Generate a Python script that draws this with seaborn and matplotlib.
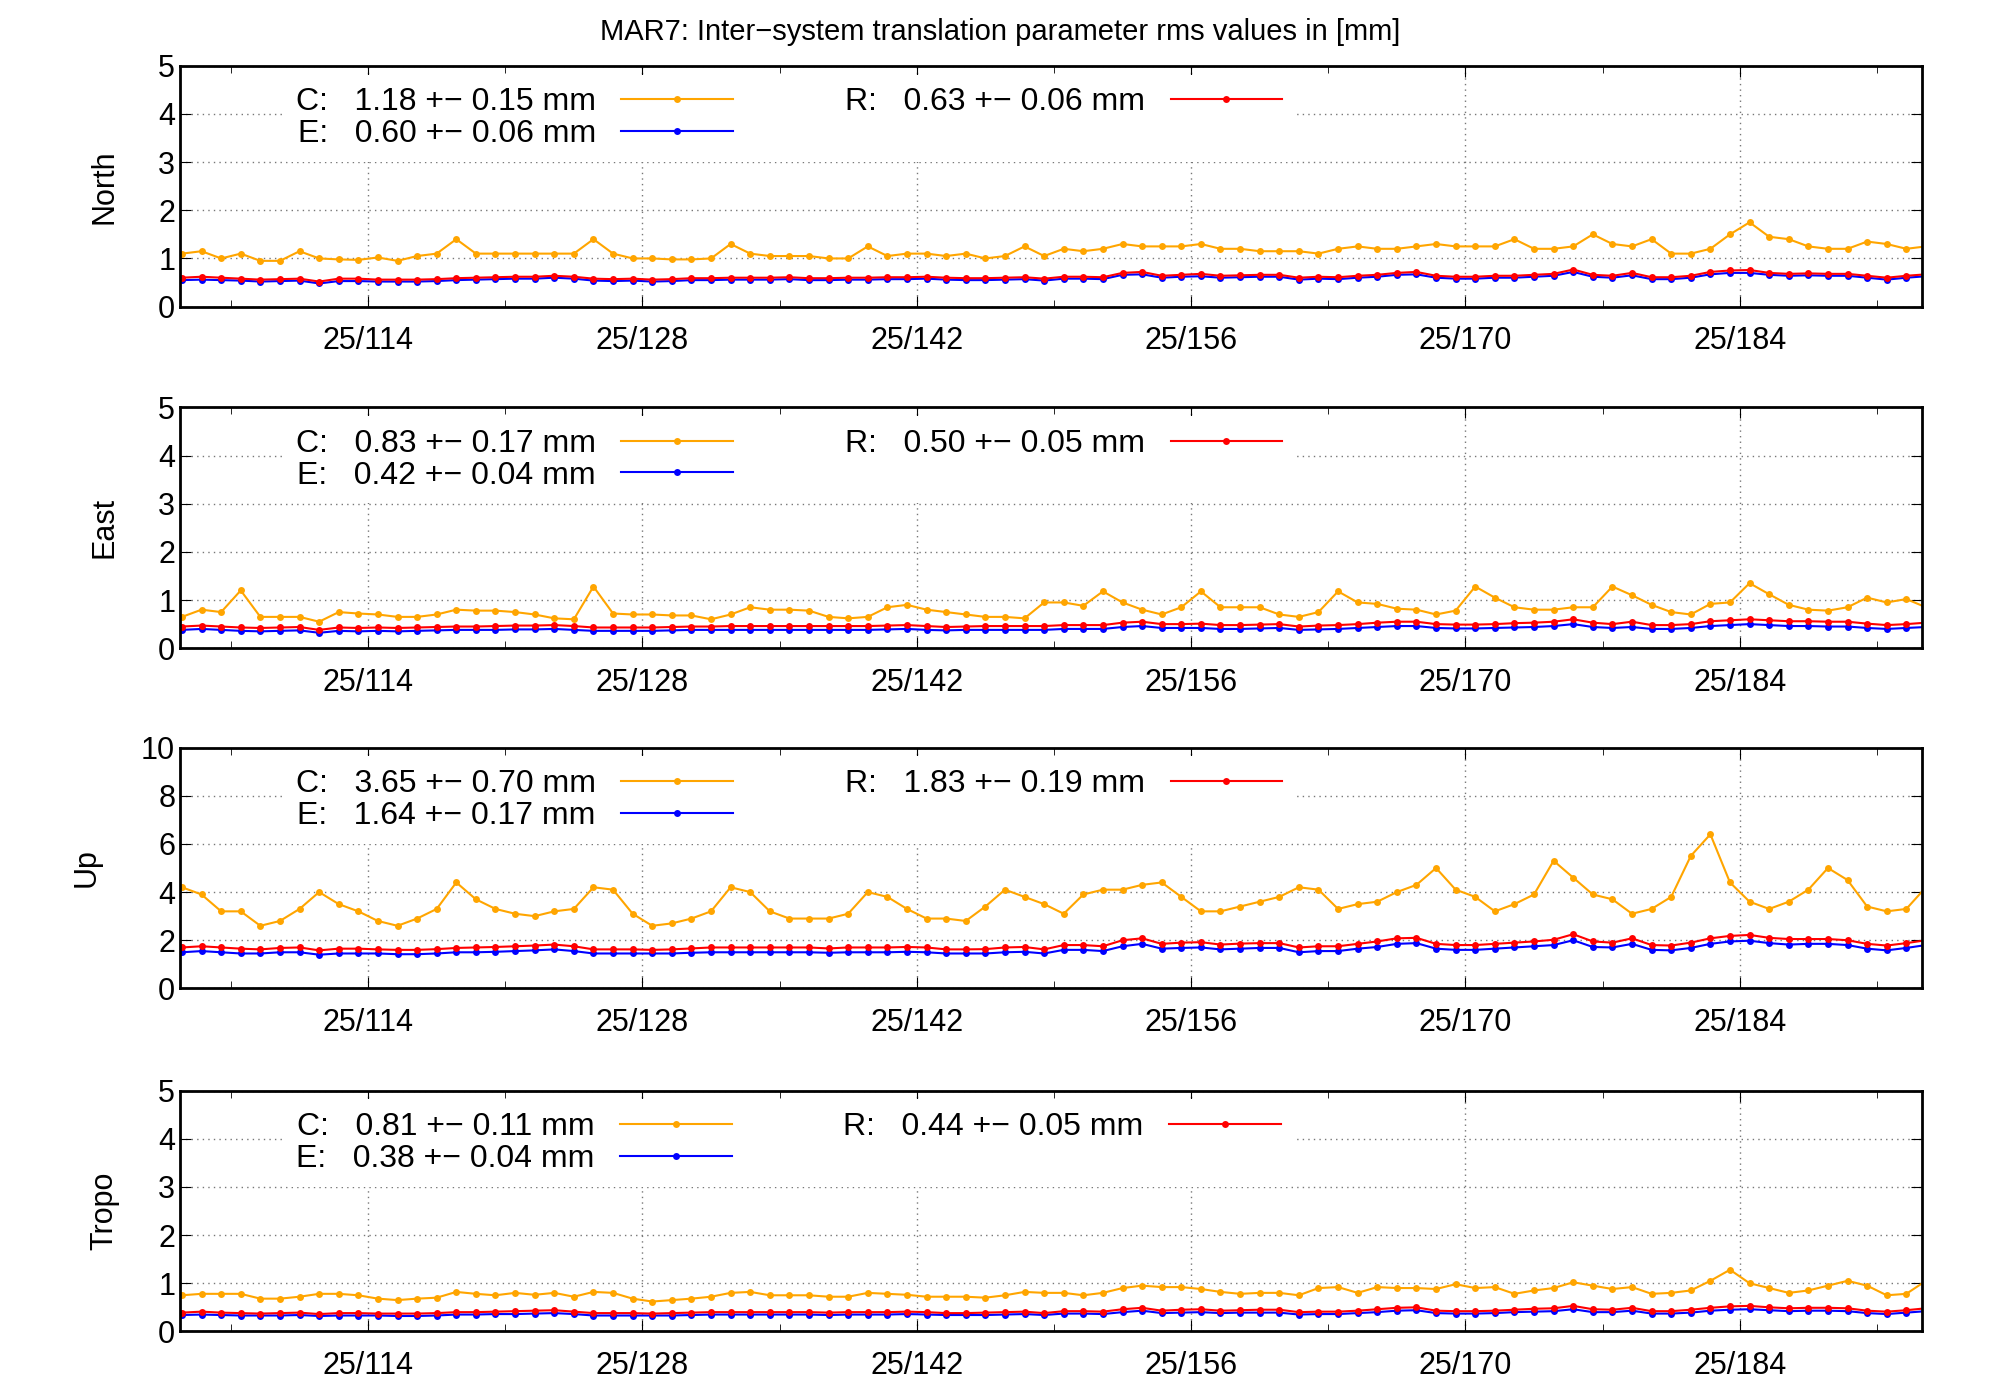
import numpy as np
import pandas as pd
import matplotlib
matplotlib.use("Agg")
import matplotlib.pyplot as plt
import seaborn as sns

plt.rcParams["font.family"] = "Liberation Sans"

panels = ["North", "East", "Up", "Tropo"]
ylims = [5, 5, 10, 5]
legend_c = ["1.18 +\u2212 0.15 mm", "0.83 +\u2212 0.17 mm", "3.65 +\u2212 0.70 mm", "0.81 +\u2212 0.11 mm"]
legend_e = ["0.60 +\u2212 0.06 mm", "0.42 +\u2212 0.04 mm", "1.64 +\u2212 0.17 mm", "0.38 +\u2212 0.04 mm"]
legend_r = ["0.63 +\u2212 0.06 mm", "0.50 +\u2212 0.05 mm", "1.83 +\u2212 0.19 mm", "0.44 +\u2212 0.05 mm"]
tick_days = [114, 128, 142, 156, 170, 184]
tick_labels = ["25/114", "25/128", "25/142", "25/156", "25/170", "25/184"]
first_day = 104.5

north_c = [1.1,1.15,1.0,1.1,0.95,0.95,1.15,1.0,0.98,0.97, 1.02,0.95,1.05,1.1,1.4,1.1,1.1,1.1,1.1,1.1,
           1.1,1.4,1.1,1.0,1.0,0.98,0.98,1.0,1.3,1.1, 1.05,1.05,1.05,1.0,1.0,1.25,1.05,1.1,1.1,1.05,
           1.1,1.0,1.05,1.25,1.05,1.2,1.15,1.2,1.3,1.25, 1.25,1.25,1.3,1.2,1.2,1.15,1.15,1.15,1.1,1.2,
           1.25,1.2,1.2,1.25,1.3,1.25,1.25,1.25,1.4,1.2, 1.2,1.25,1.5,1.3,1.25,1.4,1.1,1.1,1.2,1.5,
           1.75,1.45,1.4,1.25,1.2,1.2,1.35,1.3,1.2,1.25]
north_e = [0.55,0.56,0.55,0.54,0.52,0.53,0.54,0.48,0.53,0.53, 0.52,0.52,0.52,0.53,0.55,0.56,0.57,0.58,0.58,0.6,
           0.58,0.54,0.53,0.54,0.52,0.53,0.55,0.55,0.56,0.56, 0.56,0.57,0.55,0.55,0.56,0.56,0.57,0.57,0.58,0.56,
           0.55,0.55,0.56,0.57,0.54,0.58,0.58,0.57,0.66,0.67, 0.6,0.62,0.63,0.6,0.61,0.62,0.62,0.56,0.58,0.57,
           0.6,0.62,0.66,0.67,0.6,0.58,0.58,0.6,0.6,0.62, 0.64,0.72,0.62,0.6,0.65,0.57,0.57,0.6,0.67,0.7,
           0.7,0.66,0.64,0.65,0.64,0.64,0.6,0.56,0.6,0.63]
north_r = [0.6,0.62,0.6,0.58,0.56,0.57,0.58,0.52,0.58,0.58, 0.56,0.56,0.56,0.57,0.59,0.6,0.61,0.62,0.62,0.64,
           0.62,0.58,0.57,0.58,0.56,0.57,0.59,0.59,0.6,0.6, 0.6,0.61,0.59,0.59,0.6,0.6,0.61,0.61,0.62,0.6,
           0.59,0.59,0.6,0.61,0.58,0.62,0.62,0.61,0.7,0.72, 0.64,0.66,0.68,0.64,0.65,0.66,0.66,0.6,0.62,0.61,
           0.64,0.66,0.7,0.72,0.64,0.62,0.62,0.64,0.64,0.66, 0.68,0.77,0.66,0.64,0.7,0.61,0.61,0.64,0.72,0.75,
           0.76,0.7,0.68,0.69,0.68,0.68,0.64,0.6,0.64,0.67]

east_c = [0.65,0.8,0.75,1.2,0.65,0.65,0.65,0.55,0.75,0.72, 0.7,0.65,0.65,0.7,0.8,0.78,0.78,0.75,0.7,0.62,
          0.6,1.28,0.72,0.7,0.7,0.68,0.68,0.6,0.7,0.85, 0.8,0.8,0.78,0.65,0.62,0.65,0.85,0.9,0.8,0.75,
          0.7,0.65,0.65,0.62,0.95,0.95,0.88,1.18,0.95,0.8, 0.7,0.85,1.18,0.85,0.85,0.85,0.7,0.65,0.75,1.18,
          0.95,0.92,0.82,0.8,0.7,0.78,1.28,1.05,0.85,0.8, 0.8,0.85,0.85,1.28,1.1,0.9,0.75,0.7,0.92,0.95,
          1.35,1.12,0.9,0.8,0.78,0.85,1.05,0.95,1.02,0.85]
east_e = [0.38,0.4,0.38,0.36,0.35,0.36,0.37,0.32,0.36,0.35, 0.36,0.35,0.36,0.37,0.38,0.38,0.38,0.39,0.39,0.4,
          0.38,0.36,0.36,0.36,0.36,0.37,0.38,0.38,0.38,0.38, 0.38,0.38,0.38,0.38,0.38,0.38,0.39,0.4,0.38,0.37,
          0.38,0.38,0.38,0.38,0.38,0.4,0.4,0.4,0.44,0.46, 0.42,0.42,0.42,0.4,0.4,0.41,0.42,0.38,0.39,0.4,
          0.42,0.44,0.46,0.46,0.42,0.41,0.41,0.42,0.43,0.44, 0.46,0.5,0.44,0.42,0.44,0.4,0.4,0.42,0.46,0.48,
          0.5,0.48,0.46,0.46,0.45,0.45,0.42,0.4,0.42,0.44]
east_r = [0.45,0.47,0.45,0.43,0.42,0.43,0.44,0.38,0.43,0.42, 0.43,0.42,0.43,0.44,0.45,0.45,0.46,0.47,0.47,0.48,
          0.46,0.43,0.43,0.43,0.43,0.44,0.45,0.45,0.46,0.46, 0.46,0.46,0.46,0.46,0.46,0.46,0.47,0.48,0.46,0.44,
          0.45,0.46,0.46,0.46,0.46,0.48,0.48,0.48,0.53,0.55, 0.5,0.5,0.51,0.48,0.48,0.49,0.5,0.45,0.47,0.48,
          0.5,0.53,0.55,0.55,0.5,0.49,0.49,0.5,0.52,0.53, 0.55,0.6,0.53,0.5,0.55,0.48,0.48,0.5,0.56,0.58,
          0.6,0.58,0.56,0.56,0.55,0.55,0.51,0.48,0.5,0.53]

up_c = [4.2,3.9,3.2,3.2,2.6,2.8,3.3,4.0,3.5,3.2, 2.8,2.6,2.9,3.3,4.4,3.7,3.3,3.1,3.0,3.2,
        3.3,4.2,4.1,3.1,2.6,2.7,2.9,3.2,4.2,4.0, 3.2,2.9,2.9,2.9,3.1,4.0,3.8,3.3,2.9,2.9,
        2.8,3.4,4.1,3.8,3.5,3.1,3.9,4.1,4.1,4.3, 4.4,3.8,3.2,3.2,3.4,3.6,3.8,4.2,4.1,3.3,
        3.5,3.6,4.0,4.3,5.0,4.1,3.8,3.2,3.5,3.9, 5.3,4.6,3.9,3.7,3.1,3.3,3.8,5.5,6.4,4.4,
        3.6,3.3,3.6,4.1,5.0,4.5,3.4,3.2,3.3,4.2]
up_e = [1.5,1.55,1.5,1.45,1.45,1.5,1.5,1.4,1.45,1.45, 1.45,1.42,1.42,1.45,1.5,1.5,1.52,1.55,1.58,1.62,
        1.55,1.45,1.45,1.45,1.45,1.45,1.48,1.5,1.5,1.5, 1.5,1.5,1.5,1.48,1.5,1.5,1.5,1.52,1.5,1.45,
        1.45,1.45,1.5,1.52,1.45,1.6,1.6,1.55,1.75,1.85, 1.65,1.68,1.7,1.62,1.65,1.68,1.68,1.5,1.55,1.55,
        1.65,1.72,1.85,1.88,1.65,1.6,1.6,1.65,1.7,1.75, 1.8,2.0,1.72,1.7,1.85,1.6,1.58,1.68,1.85,1.95,
        1.98,1.88,1.82,1.85,1.85,1.8,1.65,1.58,1.68,1.8]
up_r = [1.7,1.75,1.7,1.65,1.62,1.68,1.7,1.58,1.65,1.65, 1.62,1.6,1.6,1.63,1.68,1.7,1.72,1.75,1.78,1.82,
        1.75,1.62,1.62,1.62,1.6,1.62,1.66,1.7,1.7,1.7, 1.7,1.7,1.7,1.66,1.7,1.7,1.7,1.72,1.7,1.62,
        1.62,1.63,1.7,1.72,1.62,1.8,1.8,1.75,2.0,2.08, 1.85,1.9,1.92,1.82,1.86,1.88,1.88,1.7,1.75,1.75,
        1.85,1.95,2.08,2.1,1.85,1.8,1.8,1.85,1.9,1.95, 2.02,2.25,1.95,1.9,2.08,1.8,1.78,1.9,2.08,2.18,
        2.22,2.1,2.05,2.05,2.05,2.0,1.85,1.78,1.88,2.0]

tropo_c = [0.75,0.78,0.78,0.78,0.68,0.68,0.72,0.78,0.78,0.75, 0.68,0.65,0.68,0.7,0.82,0.78,0.75,0.8,0.76,0.8,
           0.72,0.82,0.8,0.68,0.62,0.65,0.68,0.72,0.8,0.82, 0.75,0.75,0.75,0.72,0.72,0.8,0.78,0.76,0.72,0.72,
           0.72,0.7,0.75,0.82,0.8,0.8,0.75,0.8,0.9,0.95, 0.92,0.92,0.88,0.82,0.78,0.8,0.8,0.75,0.9,0.92,
           0.8,0.92,0.9,0.9,0.88,0.98,0.9,0.92,0.78,0.85, 0.9,1.02,0.95,0.88,0.92,0.78,0.8,0.85,1.05,1.28,
           1.0,0.9,0.8,0.85,0.95,1.05,0.95,0.75,0.78,1.05]
tropo_e = [0.34,0.35,0.34,0.33,0.33,0.33,0.34,0.32,0.33,0.33, 0.33,0.32,0.32,0.33,0.35,0.35,0.36,0.36,0.37,0.38,
           0.36,0.33,0.33,0.33,0.33,0.33,0.34,0.35,0.35,0.35, 0.35,0.35,0.35,0.34,0.35,0.35,0.35,0.36,0.35,0.34,
           0.34,0.34,0.35,0.36,0.34,0.37,0.37,0.36,0.4,0.43, 0.38,0.39,0.4,0.38,0.39,0.39,0.39,0.35,0.36,0.36,
           0.38,0.4,0.43,0.44,0.38,0.37,0.37,0.38,0.4,0.41, 0.42,0.46,0.4,0.4,0.43,0.37,0.37,0.39,0.43,0.45,
           0.46,0.44,0.42,0.43,0.43,0.42,0.38,0.36,0.39,0.42]
tropo_r = [0.39,0.41,0.39,0.38,0.37,0.38,0.39,0.36,0.38,0.38, 0.37,0.37,0.37,0.38,0.4,0.4,0.41,0.42,0.43,0.44,
           0.41,0.38,0.38,0.38,0.37,0.38,0.39,0.4,0.4,0.4, 0.4,0.4,0.4,0.39,0.4,0.4,0.4,0.41,0.4,0.38,
           0.38,0.39,0.4,0.41,0.38,0.42,0.42,0.41,0.46,0.49, 0.43,0.45,0.46,0.43,0.44,0.45,0.45,0.4,0.41,0.41,
           0.43,0.46,0.49,0.5,0.43,0.42,0.42,0.43,0.45,0.47, 0.48,0.53,0.46,0.45,0.49,0.42,0.42,0.45,0.49,0.52,
           0.53,0.5,0.48,0.49,0.49,0.48,0.43,0.41,0.44,0.48]

series = {
    "North": (north_c, north_e, north_r),
    "East": (east_c, east_e, east_r),
    "Up": (up_c, up_e, up_r),
    "Tropo": (tropo_c, tropo_e, tropo_r),
}
colors = {"C": "#FFA500", "E": "#0000FF", "R": "#FF0000"}

fig = plt.figure(figsize=(20, 14), dpi=100)
fig.suptitle("MAR7: Inter\u2212system translation parameter rms values in [mm]",
             fontsize=21, y=0.987)
bottoms = [0.781, 0.537, 0.294, 0.049]
height = 0.172
for i, name in enumerate(panels):
    ax = fig.add_axes([0.09, bottoms[i], 0.871, height])
    c, e, r = series[name]
    rows = []
    for key, vals, lab in (("C", c, legend_c[i]), ("E", e, legend_e[i]), ("R", r, legend_r[i])):
        for k, v in enumerate(vals):
            rows.append({"day": first_day + k, "val": v,
                         "series": f"{key}:   {lab}"})
    df = pd.DataFrame(rows)
    order = [f"C:   {legend_c[i]}", f"E:   {legend_e[i]}", f"R:   {legend_r[i]}"]
    pal = {order[0]: colors["C"], order[1]: colors["E"], order[2]: colors["R"]}
    sns.lineplot(data=df, x="day", y="val", hue="series", hue_order=order, palette=pal,
                 marker="o", markersize=5, markeredgewidth=0, linewidth=1.5, ax=ax)
    ax.set_xlim(104.4, 193.3)
    ax.set_ylim(0, ylims[i])
    ax.set_yticks(np.arange(0, ylims[i] + 0.01, ylims[i] / 5))
    ax.set_xticks(tick_days)
    ax.set_xticklabels(tick_labels)
    ax.set_xticks(np.arange(107, 194, 7), minor=True)
    ax.tick_params(axis="both", which="both", direction="in", top=True, right=True,
                   labelsize=22, length=8)
    ax.tick_params(axis="x", which="major", pad=14)
    ax.tick_params(axis="x", which="minor", length=5)
    ax.grid(True, which="major", linestyle=(0, (1, 3)), color="#777777", linewidth=1)
    ax.set_xlabel("")
    ax.set_ylabel(name, fontsize=22, labelpad=28)
    for s in ax.spines.values():
        s.set_linewidth(2)
    leg = ax.legend(loc="upper left", bbox_to_anchor=(0.05, 1.03), ncol=2, markerfirst=False,
                    frameon=True, fontsize=23, handlelength=3.5, columnspacing=3.5,
                    labelspacing=0.05, borderpad=0.4, handletextpad=0.8)
    leg.get_frame().set_facecolor("white")
    leg.get_frame().set_edgecolor("none")
    leg.get_frame().set_alpha(1)

fig.savefig("out.png", dpi=100)
